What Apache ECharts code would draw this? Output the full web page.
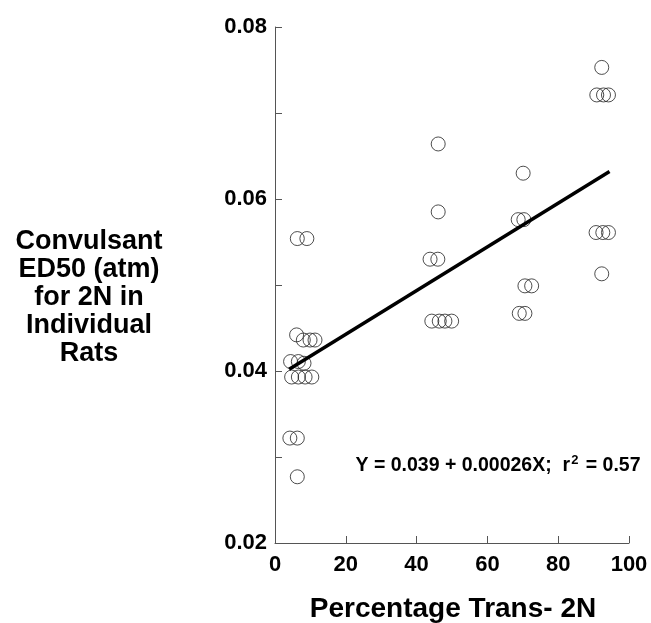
<!DOCTYPE html>
<html>
<head>
<meta charset="utf-8">
<script src="https://cdn.jsdelivr.net/npm/echarts@6/dist/echarts.min.js"></script>
<style>
html,body{margin:0;padding:0;background:#fff;}
#chart{width:651px;height:623px;}
</style>
</head>
<body>
<div id="chart"></div>
<script>
// Percentage trans-2N (x) and convulsant ED50 in atm (y) for individual rats
const xValues = [
  6.3, 9.0,
  6.1, 8.0, 9.9, 11.3,
  4.4, 6.6, 8.2,
  4.7, 6.6, 8.5, 10.4,
  4.2, 6.3,
  6.3,
  46.1, 46.1, 43.8, 46.0, 44.3, 46.4, 48.0, 49.9,
  70.1, 68.7, 70.3, 70.6, 72.5, 69.0, 70.6,
  92.3, 90.9, 92.8, 94.2, 90.7, 92.6, 94.2, 92.3
];
const yValues = [
  0.0554, 0.0554,
  0.0442, 0.0436, 0.0436, 0.0436,
  0.0411, 0.0411, 0.0409,
  0.0393, 0.0393, 0.0393, 0.0393,
  0.0322, 0.0322,
  0.0277,
  0.0664, 0.0585, 0.0530, 0.0530, 0.0458, 0.0458, 0.0458, 0.0458,
  0.0630, 0.0576, 0.0576, 0.0499, 0.0499, 0.0467, 0.0467,
  0.0753, 0.0721, 0.0721, 0.0721, 0.0561, 0.0561, 0.0561, 0.0513
];
// regression line endpoints (Y = 0.039 + 0.00026X)
const fitX = [4.0, 94.5];
const fitY = [0.0402, 0.0632];
const xTicks = [0, 20, 40, 60, 80, 100];
const yTicks = [0.02, 0.04, 0.06, 0.08];
const yTitle = ['Convulsant', 'ED50 (atm)', 'for 2N in', 'Individual', 'Rats'];
const xTitle = 'Percentage Trans- 2N';

const FONT = '"Liberation Sans", Arial, Helvetica, sans-serif';
const chart = echarts.init(document.getElementById('chart'), null, {renderer: 'canvas'});

const points = xValues.map((x, i) => [x, yValues[i]]);
const fit = fitX.map((x, i) => [x, fitY[i]]);

chart.setOption({
  animation: false,
  backgroundColor: '#fff',
  grid: {left: 275, right: 22, top: 27, bottom: 80, containLabel: false},
  xAxis: {
    type: 'value', min: xTicks[0], max: xTicks[xTicks.length - 1], interval: 20,
    axisLine: {show: true, lineStyle: {color: '#555', width: 1}},
    axisTick: {show: true, inside: true, length: 7, lineStyle: {color: '#555'}},
    axisLabel: {fontFamily: FONT, fontWeight: 'bold', fontSize: 22, color: '#000', margin: 11},
    splitLine: {show: false}
  },
  yAxis: {
    type: 'value', min: yTicks[0], max: yTicks[yTicks.length - 1], interval: 0.02,
    axisLine: {show: true, lineStyle: {color: '#555', width: 1}},
    axisTick: {show: true, inside: true, length: 7, lineStyle: {color: '#555'}},
    minorTick: {show: true, splitNumber: 2, length: 7, lineStyle: {color: '#555'}},
    axisLabel: {fontFamily: FONT, fontWeight: 'bold', fontSize: 22, color: '#000', margin: 8,
      formatter: v => v.toFixed(2)},
    splitLine: {show: false}
  },
  series: [
    {
      type: 'scatter', data: points, symbol: 'circle', symbolSize: 14,
      itemStyle: {color: 'rgba(0,0,0,0)', borderColor: '#222', borderWidth: 1},
      z: 3
    },
    {
      type: 'line', data: fit, showSymbol: false, symbol: 'none',
      lineStyle: {color: '#000', width: 3.5}, z: 4
    }
  ],
  graphic: [
    {
      type: 'text', x: 89, y: 298,
      style: {
        text: yTitle.join('\n'), align: 'center', verticalAlign: 'middle',
        fontFamily: FONT, fontWeight: 'bold', fontSize: 27, lineHeight: 28, fill: '#000'
      }
    },
    {
      type: 'text', x: 453, y: 609,
      style: {
        text: xTitle, align: 'center', verticalAlign: 'middle',
        fontFamily: FONT, fontWeight: 'bold', fontSize: 28, fill: '#000'
      }
    },
    {
      type: 'text', x: 498, y: 466,
      style: {
        text: '{a|Y = 0.039 + 0.00026X;  r}{s|2}{a| = 0.57}',
        align: 'center', verticalAlign: 'middle',
        rich: {
          a: {fontFamily: FONT, fontWeight: 'bold', fontSize: 19.5, fill: '#000', lineHeight: 24},
          s: {fontFamily: FONT, fontWeight: 'bold', fontSize: 13, fill: '#000', verticalAlign: 'top', lineHeight: 13, padding: [0, 2, 0, 1]}
        }
      }
    }
  ]
});
</script>
</body>
</html>
